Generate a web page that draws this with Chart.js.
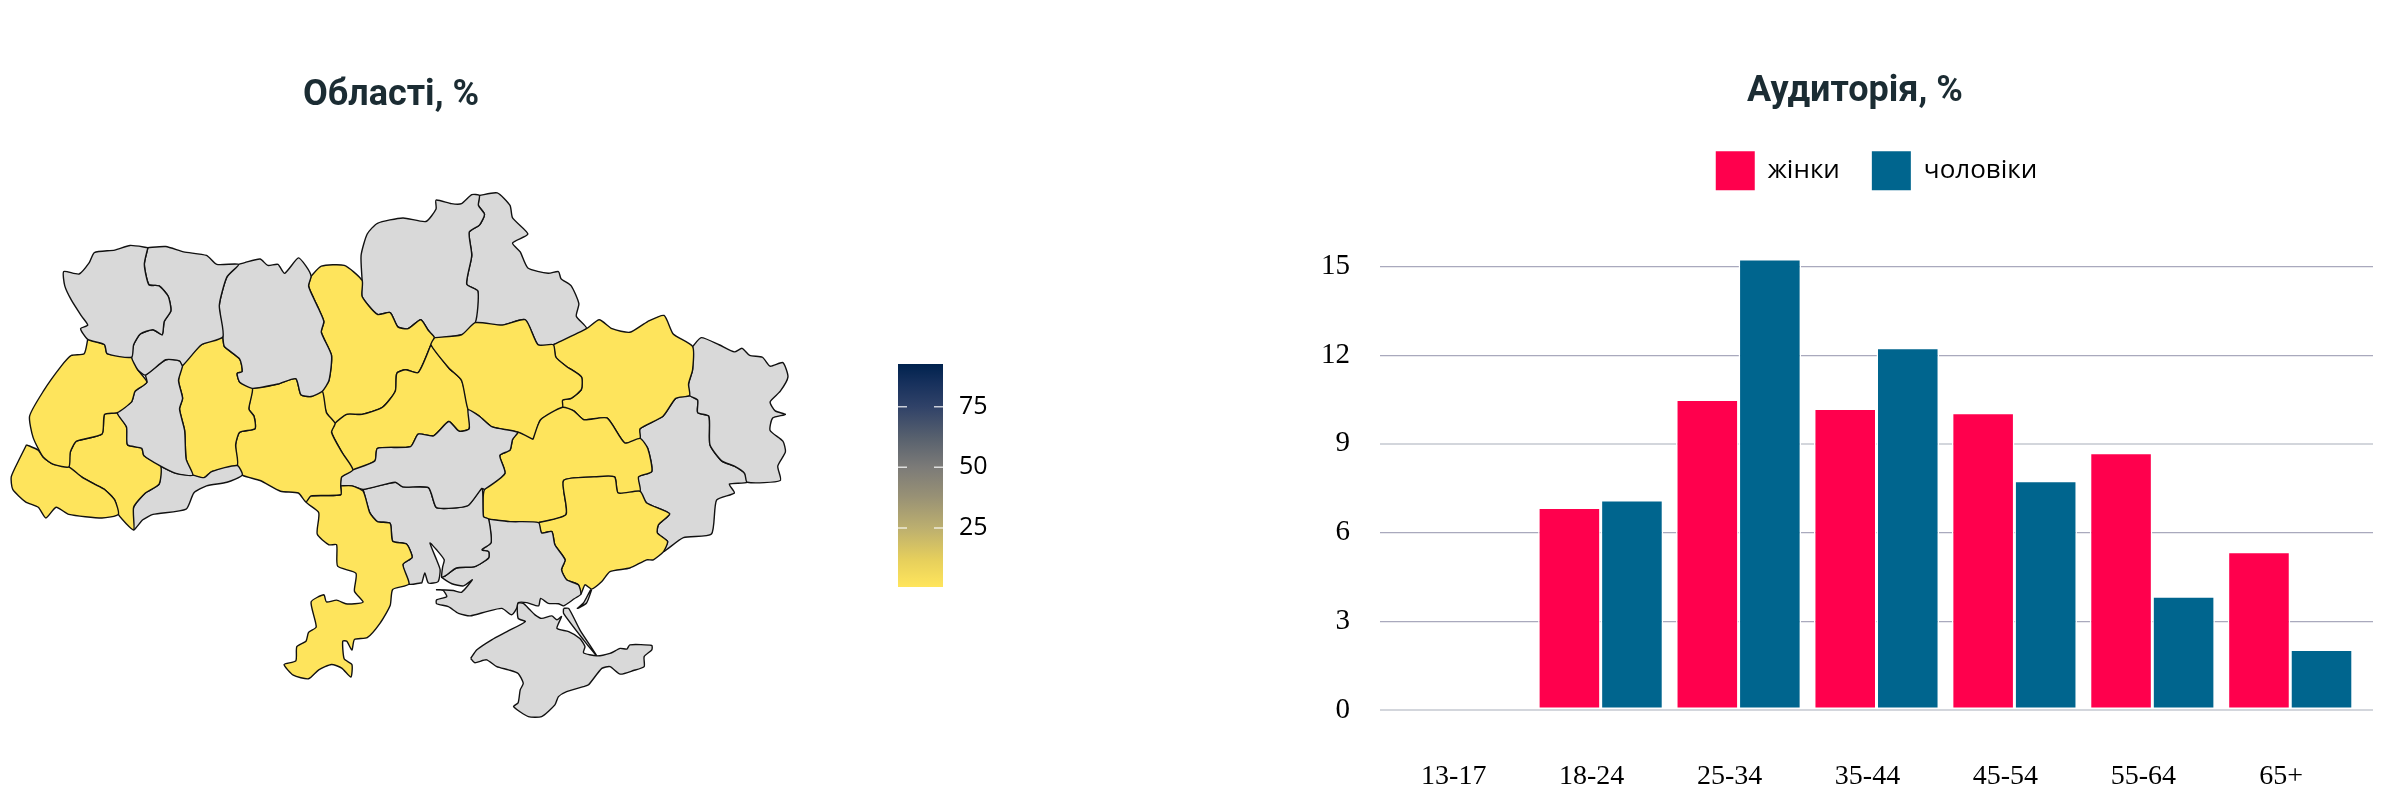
<!DOCTYPE html>
<html lang="uk"><head><meta charset="utf-8">
<style>
html,body{margin:0;padding:0;background:#fff;width:2384px;height:802px;overflow:hidden}
canvas{position:absolute;display:block}
</style>
<script src="https://cdn.jsdelivr.net/npm/chart.js@4"></script>
</head><body>
<canvas id="map" style="left:-18px;top:0" width="818" height="802"></canvas>
<canvas id="bar" style="left:898px;top:364px" width="100" height="223"></canvas>
<canvas id="aud" style="left:1280px;top:0" width="1150" height="802"></canvas>
<script>
// ---- audience chart
const ageLabels=["13-17","18-24","25-34","35-44","45-54","55-64","65+"];
const women=[null,6.85,10.5,10.2,10.05,8.7,5.35];
const men=[null,7.1,15.25,12.25,7.75,3.85,2.05];
const yTicks=[0,3,6,9,12,15];
// ---- colour bar
const barTicks=[25,50,75];
const cividisStops=[[0.7,[255,229,92]],[12,[230,207,92]],[25,[188,175,111]],[38,[152,145,117]],[50,[124,123,120]],[62,[88,97,110]],[75,[48,66,104]],[85,[22,48,92]],[92.6,[0,34,78]]];
// ---- map: estimated share per oblast (null = no data)
const regionValues={Zakarpattia:1,Lviv:1,IvanoFrankivsk:1,Chernivtsi:null,Ternopil:null,Khmelnytskyi:1,Vinnytsia:1,Volyn:null,Rivne:null,Zhytomyr:null,KyivObl:1,Chernihiv:null,Sumy:null,Cherkasy:1,Poltava:1,Kharkiv:1,Luhansk:null,Donetsk:null,Dnipro:1,Zaporizhzhia:1,Kirovohrad:null,Mykolaiv:null,Odesa:1,Kherson:null,Crimea:null,Arabat:null,Fedotova:null,KyivCity:92.6};
const Volyn=[[290,218],[255,212],[225,225],[185,232],[175,260],[155,292],[125,285],[127,325],[140,365],[160,410],[172,435],[158,445],[172,475],[205,490],[210,515],[258,525],[262,490],[275,460],[300,448],[318,462],[322,425],[335,395],[330,355],[312,325],[292,322],[283,265],[290,218]];
const Rivne=[[290,218],[325,215],[360,230],[405,240],[425,265],[468,265],[445,300],[430,380],[437,468],[395,490],[358,548],[352,535],[325,532],[285,575],[270,560],[258,525],[262,490],[275,460],[300,448],[318,462],[322,425],[335,395],[330,355],[312,325],[292,322],[283,265],[290,218]];
const Zhytomyr=[[468,265],[480,260],[510,250],[525,268],[545,265],[558,290],[585,247],[600,270],[610,298],[605,325],[615,360],[625,390],[635,425],[630,455],[650,520],[645,590],[632,620],[610,635],[590,630],[580,585],[545,600],[495,612],[470,595],[465,570],[475,565],[470,530],[440,495],[437,468],[430,380],[445,300],[468,265]];
const Lviv=[[172,475],[205,490],[210,515],[258,525],[270,560],[288,595],[265,620],[258,650],[230,680],[205,685],[200,740],[150,760],[138,790],[135,832],[105,825],[85,805],[65,750],[58,690],[85,620],[120,550],[140,520],[165,515],[172,475]];
const Ternopil=[[285,575],[325,532],[352,535],[358,548],[350,590],[358,640],[352,670],[362,730],[365,810],[378,855],[345,850],[315,830],[282,800],[278,780],[250,770],[248,720],[230,680],[258,650],[265,620],[288,595],[285,575]];
const Zakarpattia=[[52,770],[75,785],[85,805],[105,825],[135,832],[160,860],[185,880],[205,895],[225,925],[232,965],[200,975],[135,965],[110,945],[90,975],[75,945],[50,930],[25,895],[22,860],[38,810],[52,770]];
const IvanoFrankivsk=[[230,680],[248,720],[250,770],[278,780],[282,800],[315,830],[312,880],[285,905],[262,945],[262,1008],[232,965],[225,925],[205,895],[185,880],[160,860],[135,832],[138,790],[150,760],[200,740],[205,685],[230,680]];
const Chernivtsi=[[315,830],[345,850],[378,855],[400,862],[415,845],[465,828],[475,855],[445,875],[405,885],[380,905],[365,950],[300,965],[280,980],[262,1008],[262,945],[285,905],[312,880],[315,830]];
const Khmelnytskyi=[[437,468],[440,495],[470,530],[475,565],[465,570],[470,595],[495,612],[488,670],[498,690],[500,725],[470,735],[462,770],[465,828],[415,845],[400,862],[378,855],[365,810],[362,730],[352,670],[358,640],[350,590],[358,548],[395,490],[437,468]];
const Vinnytsia=[[495,612],[545,600],[580,585],[590,630],[610,635],[632,620],[640,680],[657,710],[650,735],[670,790],[692,840],[670,860],[668,885],[668,910],[610,913],[600,930],[585,905],[550,900],[510,870],[475,855],[465,828],[462,770],[470,735],[500,725],[498,690],[488,670],[495,612]];
const Odesa=[[668,885],[690,885],[712,900],[725,960],[740,985],[765,990],[770,1040],[797,1048],[808,1085],[790,1105],[802,1160],[770,1175],[765,1220],[745,1270],[720,1310],[695,1315],[690,1345],[680,1320],[672,1320],[675,1370],[690,1385],[688,1420],[670,1395],[650,1385],[625,1400],[605,1425],[575,1415],[557,1385],[580,1375],[582,1335],[600,1320],[605,1295],[620,1280],[610,1210],[635,1190],[640,1210],[660,1205],[678,1215],[695,1215],[712,1210],[695,1180],[698,1130],[662,1110],[660,1050],[645,1050],[622,1020],[625,960],[600,930],[610,913],[668,910],[668,885]];
const Kirovohrad=[[692,840],[735,815],[740,780],[805,775],[820,740],[850,745],[880,705],[900,732],[920,725],[918,672],[940,690],[965,720],[1015,735],[1005,755],[1000,785],[980,800],[990,850],[950,895],[945,892],[918,940],[880,948],[855,945],[840,890],[790,888],[775,875],[712,895],[690,885],[668,885],[670,860],[692,840]];
const Mykolaiv=[[712,895],[775,875],[790,888],[840,890],[855,945],[880,948],[918,940],[945,892],[948,971],[958,978],[963,1044],[945,1064],[958,1069],[958,1087],[931,1111],[895,1115],[873,1137],[866,1141],[868,1111],[871,1092],[856,1064],[843,1045],[856,1092],[863,1120],[859,1153],[840,1157],[833,1129],[827,1157],[824,1157],[802,1160],[790,1105],[808,1085],[797,1048],[770,1040],[765,990],[740,985],[725,960],[712,895]];
const Kherson=[[958,978],[1000,985],[1056,988],[1062,1017],[1082,1013],[1088,1050],[1108,1092],[1101,1120],[1111,1148],[1134,1162],[1139,1188],[1126,1201],[1105,1221],[1095,1215],[1075,1214],[1060,1200],[1056,1221],[1033,1212],[1016,1212],[1013,1228],[1003,1246],[984,1228],[954,1237],[922,1249],[899,1242],[879,1223],[856,1215],[856,1204],[876,1195],[869,1178],[856,1176],[889,1178],[905,1183],[926,1148],[909,1165],[886,1159],[866,1141],[873,1137],[895,1115],[931,1111],[958,1087],[958,1069],[945,1064],[963,1044],[958,978]];
const Zaporizhzhia=[[1056,988],[1110,965],[1105,870],[1165,860],[1205,860],[1212,905],[1255,900],[1268,933],[1313,963],[1291,994],[1289,1017],[1309,1041],[1301,1069],[1281,1092],[1268,1092],[1235,1115],[1196,1125],[1180,1153],[1160,1174],[1147,1162],[1139,1188],[1134,1162],[1111,1148],[1101,1120],[1108,1092],[1088,1050],[1082,1013],[1062,1017],[1056,988]];
const Dnipro=[[1045,755],[1060,700],[1103,665],[1125,675],[1145,700],[1190,695],[1225,765],[1255,752],[1270,780],[1278,845],[1252,860],[1255,900],[1212,905],[1205,860],[1165,860],[1105,870],[1110,965],[1056,988],[1000,985],[958,978],[948,971],[950,895],[990,850],[980,800],[1000,785],[1005,755],[1015,735],[1045,755]];
const Poltava=[[852,470],[905,462],[932,428],[985,435],[1030,420],[1055,490],[1085,490],[1090,525],[1110,550],[1140,580],[1140,615],[1120,640],[1103,645],[1103,665],[1060,700],[1045,755],[1015,735],[965,720],[940,690],[918,672],[905,590],[880,555],[845,490],[852,470]];
const Kharkiv=[[1085,490],[1150,445],[1175,420],[1200,445],[1235,455],[1270,425],[1302,408],[1320,460],[1358,495],[1358,560],[1350,600],[1352,632],[1325,640],[1300,690],[1255,725],[1255,752],[1225,765],[1190,695],[1145,700],[1125,675],[1103,665],[1103,645],[1120,640],[1140,615],[1140,580],[1110,550],[1090,525],[1085,490]];
const Cherkasy=[[845,490],[880,555],[905,590],[918,672],[920,725],[900,732],[880,705],[850,745],[820,740],[805,775],[740,780],[735,815],[692,840],[670,790],[650,735],[657,710],[680,685],[710,685],[750,665],[775,620],[778,570],[795,560],[820,568],[845,490]];
const KyivObl=[[610,298],[630,270],[675,268],[710,310],[710,355],[740,405],[765,400],[780,440],[800,445],[825,420],[840,450],[852,470],[845,490],[820,568],[795,560],[778,570],[775,620],[750,665],[710,685],[680,685],[657,710],[640,680],[632,620],[645,590],[650,520],[630,455],[635,425],[625,390],[615,360],[605,325],[610,298]];
const KyivCity=[[690,465],[700,440],[725,445],[740,435],[740,470],[730,480],[725,508],[710,485],[690,470],[690,465]];
const Chernihiv=[[710,310],[708,240],[720,180],[740,150],[790,135],[835,145],[855,110],[855,85],[885,95],[905,95],[925,70],[940,72],[938,100],[950,125],[940,155],[920,175],[925,240],[915,320],[937,340],[932,428],[905,462],[852,470],[840,450],[825,420],[800,445],[780,440],[765,400],[740,405],[710,355],[710,310]];
const Sumy=[[940,72],[975,65],[1000,100],[1005,135],[1035,180],[1005,205],[1020,230],[1035,275],[1075,290],[1095,285],[1100,305],[1120,325],[1135,375],[1130,410],[1150,445],[1085,490],[1055,490],[1030,420],[985,435],[932,428],[937,340],[915,320],[925,240],[920,175],[940,155],[950,125],[938,100],[940,72]];
const Luhansk=[[1358,495],[1375,470],[1410,490],[1440,510],[1455,500],[1470,520],[1495,525],[1510,550],[1535,540],[1545,580],[1530,620],[1510,650],[1520,675],[1540,685],[1515,695],[1510,730],[1535,760],[1540,790],[1525,830],[1530,870],[1465,875],[1460,850],[1440,830],[1415,815],[1392,770],[1390,690],[1368,680],[1368,645],[1352,632],[1350,600],[1358,560],[1358,495]];
const Donetsk=[[1352,632],[1368,645],[1368,680],[1390,690],[1392,770],[1415,815],[1440,830],[1460,850],[1465,875],[1430,880],[1440,905],[1405,925],[1395,1020],[1340,1030],[1301,1069],[1309,1041],[1289,1017],[1291,994],[1313,963],[1268,933],[1255,900],[1252,860],[1278,845],[1270,780],[1255,752],[1255,725],[1300,690],[1325,640],[1352,632]];
const Crimea=[[923,1368],[935,1344],[964,1316],[994,1293],[1030,1265],[1016,1256],[1015,1214],[1026,1214],[1039,1232],[1049,1246],[1062,1256],[1082,1249],[1092,1260],[1101,1251],[1092,1284],[1115,1293],[1137,1312],[1147,1335],[1144,1352],[1170,1361],[1196,1354],[1216,1340],[1229,1342],[1235,1330],[1278,1332],[1278,1344],[1263,1363],[1263,1391],[1242,1402],[1216,1412],[1196,1391],[1180,1396],[1154,1442],[1144,1447],[1111,1461],[1095,1475],[1088,1498],[1062,1531],[1036,1531],[1007,1503],[1016,1492],[1020,1456],[1026,1438],[1016,1410],[997,1400],[974,1391],[954,1372],[931,1380],[923,1368]];
const Arabat=[[1105,1228],[1115,1228],[1137,1288],[1170,1361],[1144,1316],[1105,1242],[1105,1228]];
const Fedotova=[[1160,1176],[1150,1213],[1132,1228],[1144,1213],[1158,1176],[1160,1176]];
const regionShapes={Volyn,Rivne,Zhytomyr,Lviv,Ternopil,Zakarpattia,IvanoFrankivsk,Chernivtsi,Khmelnytskyi,Vinnytsia,Odesa,Kirovohrad,Mykolaiv,Kherson,Zaporizhzhia,Dnipro,Poltava,Kharkiv,Cherkasy,KyivObl,Chernihiv,Sumy,Luhansk,Donetsk,Crimea,Arabat,Fedotova,KyivCity};

const noDataColor="#d9d9d9", titleColor="#1b2c33";
const titleFont='Roboto,"Open Sans",sans-serif';
const uiFont='"Open Sans","Noto Sans",sans-serif';
const serif='"Liberation Serif","Times New Roman",serif';
const gridLight="#d3d6dc", gridMain="#a9a9bd";

function valueColor(v){
  if(v===null||v===undefined) return noDataColor;
  for(let i=1;i<cividisStops.length;i++){
    const [a,ca]=cividisStops[i-1],[b,cb]=cividisStops[i];
    if(v<=b){const t=(v-a)/(b-a);return "rgb("+ca.map((c,k)=>Math.round(c+(cb[k]-c)*t)).join(",")+")";}
  }
  return "rgb(0,34,78)";
}
Chart.defaults.animation=false;
Chart.defaults.responsive=false;
Chart.defaults.devicePixelRatio=1;

new Chart(document.getElementById("map"),{
  type:"scatter",
  data:{datasets:Object.keys(regionShapes).map(name=>({
    label:name,
    data:regionShapes[name].map(p=>({x:p[0],y:p[1]})),
    showLine:true,fill:"shape",tension:0.2,pointRadius:0,pointHoverRadius:0,
    borderColor:"#111",borderWidth:1.4,backgroundColor:valueColor(regionValues[name]),clip:false
  }))},
  options:{
    layout:{padding:{top:74,left:0,right:0,bottom:0}},
    plugins:{legend:{display:false},tooltip:{enabled:false},
      title:{display:true,text:"Області, %",color:titleColor,padding:0,font:{family:titleFont,size:36,weight:"700"}}},
    scales:{
      x:{type:"linear",display:false,min:-35.3,max:1568.6},
      y:{type:"linear",display:false,reverse:true,min:-147,max:1770}
    }
  }
});

const tickMarks={id:"tickMarks",afterDatasetsDraw(c){
  const {ctx,chartArea:a,scales:{y}}=c;
  ctx.save();ctx.strokeStyle="rgba(255,255,255,.75)";ctx.lineWidth=1.5;
  barTicks.forEach(v=>{const p=y.getPixelForValue(v);
    ctx.beginPath();ctx.moveTo(a.left,p);ctx.lineTo(a.left+9,p);ctx.moveTo(a.right-9,p);ctx.lineTo(a.right,p);ctx.stroke();});
  ctx.restore();
}};
new Chart(document.getElementById("bar"),{
  type:"bar",
  data:{labels:["%"],datasets:[{data:[[0.7,92.6]],categoryPercentage:1,barPercentage:1,borderSkipped:false,
    backgroundColor(ctx){
      const y=ctx.chart.scales.y;
      if(!y||!ctx.chart.chartArea) return "#888";
      const g=ctx.chart.ctx.createLinearGradient(0,y.getPixelForValue(0.7),0,y.getPixelForValue(92.6));
      cividisStops.forEach(s=>g.addColorStop((s[0]-0.7)/91.9,"rgb("+s[1].join(",")+")"));
      return g;
    }}]},
  plugins:[tickMarks],
  options:{
    layout:{padding:0},
    plugins:{legend:{display:false},tooltip:{enabled:false}},
    scales:{
      x:{display:false},
      y:{position:"right",min:0.7,max:92.6,
        afterFit(s){s.width=55;s.paddingTop=0;s.paddingBottom=0;},
        afterBuildTicks(s){s.ticks=barTicks.map(v=>({value:v}));},
        grid:{display:false},border:{display:false},
        ticks:{color:"#000",padding:8,font:{family:uiFont,size:25}}}
    }
  }
});

// the y labels sit left of the padded box so the title can centre as in the reference
const widenLabelClip={id:"widenLabelClip",afterLayout(c){c.scales.y.left=0;}};
new Chart(document.getElementById("aud"),{
  type:"bar",
  data:{datasets:[
    {label:"жінки",data:women.map((v,i)=>({x:i,y:v})),backgroundColor:"#ff004d",borderColor:"#fff",borderWidth:1.5,borderSkipped:false,categoryPercentage:0.907,barPercentage:1},
    {label:"чоловіки",data:men.map((v,i)=>({x:i,y:v})),backgroundColor:"#00658e",borderColor:"#fff",borderWidth:1.5,borderSkipped:false,categoryPercentage:0.907,barPercentage:1}
  ]},
  plugins:[widenLabelClip],
  options:{
    layout:{padding:{top:70,right:57,left:57,bottom:0}},
    plugins:{
      tooltip:{enabled:false},
      title:{display:true,text:"Аудиторія, %",color:titleColor,padding:{top:0,bottom:6},font:{family:titleFont,size:36,weight:"700"}},
      legend:{display:true,fullSize:false,position:"top",
        labels:{boxWidth:39,boxHeight:39,padding:32,color:"#000",font:{family:uiFont,size:26},
          generateLabels(c){return c.data.datasets.map((d,i)=>({text:d.label,fillStyle:d.backgroundColor,strokeStyle:d.backgroundColor,lineWidth:0,datasetIndex:i,fontColor:"#000"}));}}}
    },
    scales:{
      x:{type:"linear",min:-0.6,max:6.6,offset:false,
        afterBuildTicks(s){s.ticks=ageLabels.map((l,i)=>({value:i}));},
        afterFit(s){s.height=92;},
        grid:{display:false},border:{display:false},
        ticks:{autoSkip:false,maxRotation:0,minRotation:0,labelOffset:-9,padding:42,color:"#000",font:{family:serif,size:28},callback:v=>ageLabels[v]}},
      y:{type:"linear",min:0,max:17.24,
        afterBuildTicks(s){s.ticks=yTicks.map(v=>({value:v}));},
        afterFit(s){s.width=43;},
        grid:{drawTicks:false,color:c=>(c.tick&&(c.tick.value===0||c.tick.value===9))?gridLight:gridMain,lineWidth:c=>(c.tick&&(c.tick.value===0||c.tick.value===9))?2:1.3},
        border:{display:false},
        ticks:{padding:30,color:"#000",font:{family:serif,size:29}}}
    }
  }
});
</script>
</body></html>
